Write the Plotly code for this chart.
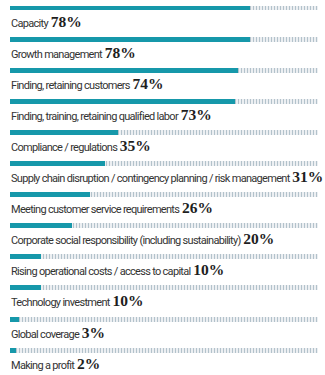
import plotly.graph_objects as go

categories = [
    "Capacity",
    "Growth management",
    "Finding, retaining customers",
    "Finding, training, retaining qualified labor",
    "Compliance / regulations",
    "Supply chain disruption / contingency planning / risk management",
    "Meeting customer service requirements",
    "Corporate social responsibility (including sustainability)",
    "Rising operational costs / access to capital",
    "Technology investment",
    "Global coverage",
    "Making a profit",
]
values = [78, 78, 74, 73, 35, 31, 26, 20, 10, 10, 3, 2]

rows = list(range(len(categories)))
BAR_W = 0.16
TEAL = "#1698aa"

fig = go.Figure()

# hatched track showing the full 100% scale
fig.add_trace(go.Bar(
    x=[100] * len(rows), y=rows, orientation="h", width=BAR_W,
    marker=dict(
        color="#b8c6cf",
        line=dict(width=0),
        pattern=dict(shape="|", fgcolor="#b3c2cb", bgcolor="#ffffff",
                     size=3, solidity=0.5, fillmode="replace"),
    ),
    hoverinfo="skip", showlegend=False,
))

# actual shares
fig.add_trace(go.Bar(
    x=values, y=rows, orientation="h", width=BAR_W,
    marker=dict(color=TEAL, line=dict(width=0)),
    showlegend=False,
))

label_style = "font-family:Roboto,sans-serif;letter-spacing:-0.7px"
pct_style = ("font-family:'Liberation Serif','DejaVu Serif',serif;"
             "font-weight:bold;font-size:15.5px;color:#1e1e1e;letter-spacing:0")

for i, (cat, v) in enumerate(zip(categories, values)):
    fig.add_annotation(
        x=0, y=i + 0.42, xref="x", yref="y",
        xanchor="left", yanchor="middle", showarrow=False,
        text=f"<span style=\"{label_style}\">{cat}</span> "
             f"<span style=\"{pct_style}\">{v}%</span>",
        font=dict(family="Roboto, sans-serif", size=11, color="#333333"),
        xshift=-1,
    )

fig.update_layout(
    width=325, height=375,
    margin=dict(l=0, r=0, t=0, b=0),
    paper_bgcolor="white", plot_bgcolor="white",
    barmode="overlay", bargap=0,
    xaxis=dict(range=[-3.25, 102.3], visible=False, fixedrange=True),
    yaxis=dict(range=[11.80, -0.257], visible=False, fixedrange=True),
)

fig.write_html("out.html")
